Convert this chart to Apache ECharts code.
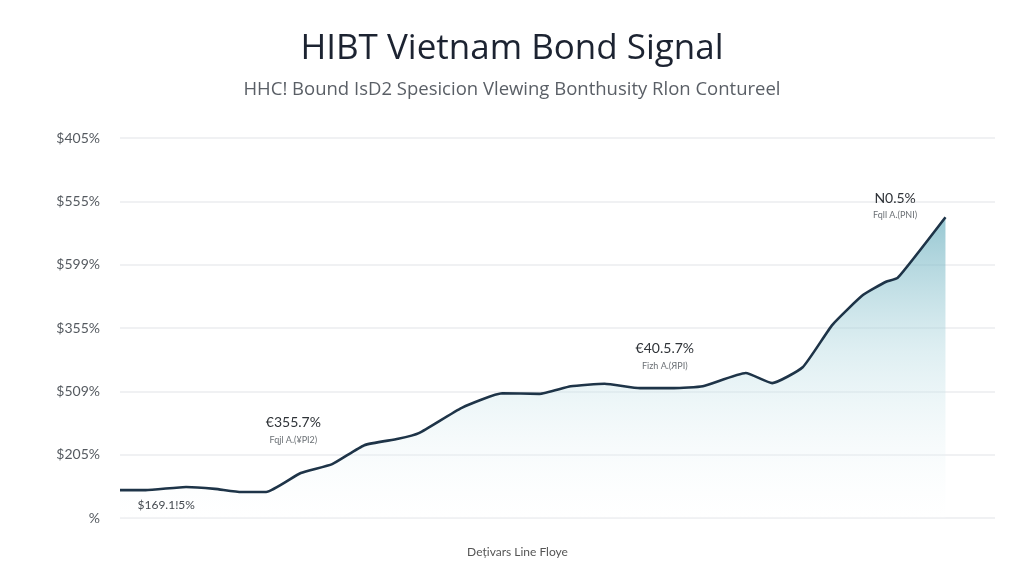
<!DOCTYPE html>
<html>
<head>
<meta charset="utf-8">
<script src="https://cdn.jsdelivr.net/npm/echarts@6/dist/echarts.min.js"></script>
<style>
html,body{margin:0;padding:0;background:#fff;}
#chart{width:1024px;height:576px;}
</style>
</head>
<body>
<div id="chart"></div>
<script>
// Data
const periods = [0, 3.1, 8.0, 11.5, 14.7, 17.7, 21.9, 25.7, 29.6, 33.7, 36.2, 41.4, 46.3, 50.8, 54.6, 58.7, 63.0, 67.1, 70.6, 75.8, 79.0, 82.7, 86.3, 90.0, 92.8, 94.2, 100];
const signalValues = [0.44, 0.44, 0.49, 0.46, 0.41, 0.41, 0.71, 0.85, 1.15, 1.25, 1.34, 1.74, 1.97, 1.96, 2.08, 2.12, 2.05, 2.05, 2.08, 2.29, 2.13, 2.38, 3.05, 3.52, 3.73, 3.79, 4.75];
const yTickLabels = ['%', '$205%', '$509%', '$355%', '$599%', '$555%', '$405%'];
const annotationMain = ['€355.7%', '€40.5.7%', 'N0.5%'];
const annotationSub = ['Fqjl A.(¥PI2)', 'Fizh A.(ЯPI)', 'Fqll A.(PNI)'];
const annotationX = [21.0, 66.0, 93.9];
const annotationY = [1.39, 2.56, 4.94];
const startLabel = '$169.1!5%';
const startLabelX = 5.6;
const startLabelY = 0.2;

const chart = echarts.init(document.getElementById('chart'), null, {renderer: 'canvas'});
const seriesData = periods.map((p, i) => [p, signalValues[i]]);
const marks = annotationMain.map((t, i) => ({
  coord: [annotationX[i], annotationY[i]],
  value: t,
  label: {formatter: '{a|' + t + '}\n{b|' + annotationSub[i] + '}'}
}));
marks.push({
  coord: [startLabelX, startLabelY],
  value: startLabel,
  label: {formatter: '{c|' + startLabel + '}'}
});

chart.setOption({
  backgroundColor: '#ffffff',
  animation: false,
  title: {
    text: 'HIBT Vietnam Bond Signal',
    subtext: 'HHC! Bound IsD2 Spesicion Vlewing Bonthusity Rlon Contureel',
    left: 'center',
    top: 27,
    itemGap: 13,
    textStyle: {fontFamily: 'Open Sans', fontSize: 35, fontWeight: 'normal', color: '#1c2331'},
    subtextStyle: {fontFamily: 'Open Sans', fontSize: 18.5, color: '#5a5f66'}
  },
  grid: {left: 120, right: 29, top: 138, bottom: 58},
  xAxis: {
    type: 'value',
    min: 0,
    max: 106,
    axisLine: {show: false},
    axisTick: {show: false},
    axisLabel: {show: false},
    splitLine: {show: false},
    name: 'Dețivars Line Floye',
    nameLocation: 'middle',
    nameGap: 28,
    nameTextStyle: {fontFamily: 'Lato', fontSize: 12, color: '#555', padding: [0, 80, 0, 0]}
  },
  yAxis: {
    type: 'value',
    min: 0,
    max: 6,
    interval: 1,
    axisLine: {show: false},
    axisTick: {show: false},
    axisLabel: {
      margin: 20,
      fontFamily: 'Lato',
      fontSize: 14,
      color: '#555a60',
      formatter: v => yTickLabels[Math.round(v)]
    },
    splitLine: {lineStyle: {color: '#ebedef', width: 1.5}}
  },
  series: [{
    type: 'line',
    data: seriesData,
    symbol: 'none',
    smooth: 0.15,
    lineStyle: {color: '#1e3448', width: 2.6},
    areaStyle: {
      color: new echarts.graphic.LinearGradient(0, 0, 0, 1, [
        {offset: 0, color: 'rgba(100,172,188,0.95)'},
        {offset: 0.45, color: 'rgba(185,220,227,0.65)'},
        {offset: 1, color: 'rgba(255,255,255,0.2)'}
      ])
    },
    markPoint: {
      symbol: 'circle',
      symbolSize: 0,
      label: {
        show: true,
        position: 'inside',
        align: 'center',
        rich: {
          a: {fontFamily: 'Lato', fontSize: 14, color: '#2f3338', lineHeight: 20},
          b: {fontFamily: 'Lato', fontSize: 9, color: '#6b7075', lineHeight: 14},
          c: {fontFamily: 'Lato', fontSize: 12, color: '#444a50'}
        }
      },
      data: marks
    }
  }]
});
</script>
</body>
</html>
